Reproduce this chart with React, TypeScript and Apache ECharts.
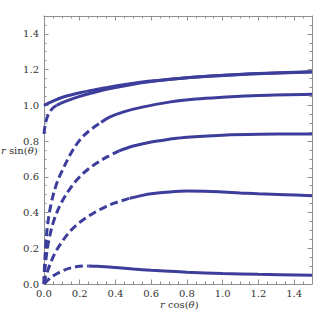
import React, { useEffect, useRef } from "react";
import * as echarts from "echarts";

// Curve data: [r cos(θ), r sin(θ)] pairs; each curve has a dashed start and a solid tail
const curveA_solid = [[0, 1.0], [0.05, 1.024], [0.1, 1.044], [0.2, 1.07], [0.3, 1.09], [0.4, 1.108], [0.5, 1.123], [0.6, 1.136], [0.8, 1.155], [1.0, 1.168], [1.2, 1.178], [1.5, 1.188]];
const curveB_dashed = [[0, 0.84], [0.005, 0.88], [0.015, 0.925], [0.03, 0.96], [0.05, 0.985], [0.07, 1.0]];
const curveB_solid = [[0.07, 1.0], [0.12, 1.022], [0.2, 1.05], [0.3, 1.077], [0.4, 1.099], [0.5, 1.118], [0.6, 1.133], [0.8, 1.154], [1.0, 1.167], [1.2, 1.177], [1.5, 1.187]];
const curveC_dashed = [[0, 0], [0.003, 0.1], [0.01, 0.22], [0.02, 0.33], [0.04, 0.45], [0.07, 0.56], [0.1, 0.63], [0.15, 0.73], [0.2, 0.805], [0.25, 0.855], [0.32, 0.905]];
const curveC_solid = [[0.32, 0.905], [0.37, 0.935], [0.45, 0.965], [0.55, 0.99], [0.7, 1.018], [0.85, 1.035], [1.0, 1.045], [1.2, 1.055], [1.5, 1.062]];
const curveD_dashed = [[0, 0], [0.005, 0.08], [0.015, 0.17], [0.03, 0.26], [0.06, 0.37], [0.1, 0.46], [0.15, 0.54], [0.2, 0.6], [0.25, 0.645], [0.3, 0.68], [0.35, 0.71], [0.42, 0.745]];
const curveD_solid = [[0.42, 0.745], [0.5, 0.772], [0.6, 0.795], [0.7, 0.81], [0.8, 0.822], [1.0, 0.833], [1.2, 0.838], [1.5, 0.84]];
const curveE_dashed = [[0, 0], [0.01, 0.04], [0.03, 0.1], [0.06, 0.17], [0.1, 0.235], [0.15, 0.3], [0.2, 0.345], [0.25, 0.38], [0.3, 0.41], [0.35, 0.435], [0.4, 0.455], [0.48, 0.48]];
const curveE_solid = [[0.48, 0.48], [0.55, 0.496], [0.6, 0.505], [0.7, 0.515], [0.8, 0.52], [0.9, 0.519], [1.0, 0.515], [1.1, 0.51], [1.2, 0.505], [1.35, 0.5], [1.5, 0.494]];
const curveF_dashed = [[0, 0], [0.02, 0.02], [0.05, 0.045], [0.1, 0.072], [0.15, 0.09], [0.2, 0.099], [0.25, 0.101]];
const curveF_solid = [[0.25, 0.101], [0.3, 0.099], [0.4, 0.092], [0.5, 0.084], [0.6, 0.077], [0.7, 0.071], [0.8, 0.066], [1.0, 0.059], [1.2, 0.054], [1.5, 0.049]];

const dashedCurves = [curveB_dashed, curveC_dashed, curveD_dashed, curveE_dashed, curveF_dashed];
const solidCurves = [curveA_solid, curveB_solid, curveC_solid, curveD_solid, curveE_solid, curveF_solid];

const X_TITLE = "{i|r} cos({i|θ})";
const Y_TITLE = "{i|r} sin({i|θ})";

const AXIS_MIN = 0;
const AXIS_MAX = 1.5;
const MAJOR_STEP = 0.2;
const MINOR_STEP = 0.05;

const LINE_COLOR = "#3d3d9c";
const FRAME_COLOR = "#8f8f8f";
const TEXT_COLOR = "#333";
const FONT = "DejaVu Serif";

function makeAxis(dim: "x" | "y", position: string, major: boolean, withLabels: boolean) {
  return {
    type: "value",
    position,
    min: AXIS_MIN,
    max: AXIS_MAX,
    interval: major ? MAJOR_STEP : MINOR_STEP,
    axisLine: { show: major, onZero: false, lineStyle: { color: FRAME_COLOR, width: 1 } },
    axisTick: { show: true, inside: true, length: major ? 4.5 : 2.5, lineStyle: { color: FRAME_COLOR, width: 1 } },
    axisLabel: {
      show: withLabels,
      showMaxLabel: false,
      margin: dim === "x" ? 4 : 5,
      color: TEXT_COLOR,
      fontFamily: FONT,
      fontSize: 10,
      formatter: (v: number) => v.toFixed(1),
    },
    splitLine: { show: false },
  };
}

const titleStyle = (text: string, align: string) => ({
  text,
  fill: TEXT_COLOR,
  font: "10px " + FONT,
  fontFamily: FONT,
  fontSize: 10,
  align,
  verticalAlign: "middle",
  rich: {
    i: { fontStyle: "italic", fontFamily: FONT, fontSize: 10, fill: TEXT_COLOR },
  },
});

export default function App() {
  const ref = useRef<HTMLDivElement>(null);
  useEffect(() => {
    if (!ref.current) return;
    const chart = echarts.init(ref.current, null, { renderer: "svg" });
    const series: any[] = [];
    dashedCurves.forEach((d) => {
      series.push({
        type: "line",
        data: d,
        xAxisIndex: 0,
        yAxisIndex: 0,
        showSymbol: false,
        smooth: 0.35,
        lineStyle: { color: LINE_COLOR, width: 3, type: [8, 4] },
        silent: true,
      });
    });
    solidCurves.forEach((d) => {
      series.push({
        type: "line",
        data: d,
        xAxisIndex: 0,
        yAxisIndex: 0,
        showSymbol: false,
        smooth: 0.35,
        lineStyle: { color: LINE_COLOR, width: 3, type: "solid" },
        silent: true,
      });
    });
    chart.setOption({
      animation: false,
      backgroundColor: "#fff",
      textStyle: { fontFamily: FONT },
      grid: { left: 44, right: 15, top: 16, bottom: 36, containLabel: false },
      xAxis: [
        makeAxis("x", "bottom", true, true),
        makeAxis("x", "bottom", false, false),
        makeAxis("x", "top", true, false),
        makeAxis("x", "top", false, false),
      ],
      yAxis: [
        makeAxis("y", "left", true, true),
        makeAxis("y", "left", false, false),
        makeAxis("y", "right", true, false),
        makeAxis("y", "right", false, false),
      ],
      graphic: [
        { type: "text", left: 1, top: 145, style: titleStyle(Y_TITLE, "left"), silent: true },
        { type: "text", left: 160, top: 299, style: titleStyle(X_TITLE, "left"), silent: true },
      ],
      series,
    });
    return () => chart.dispose();
  }, []);
  return (
    <div
      ref={ref}
      style={{ position: "fixed", left: 0, top: 0, width: 327, height: 320, background: "#fff" }}
    />
  );
}
